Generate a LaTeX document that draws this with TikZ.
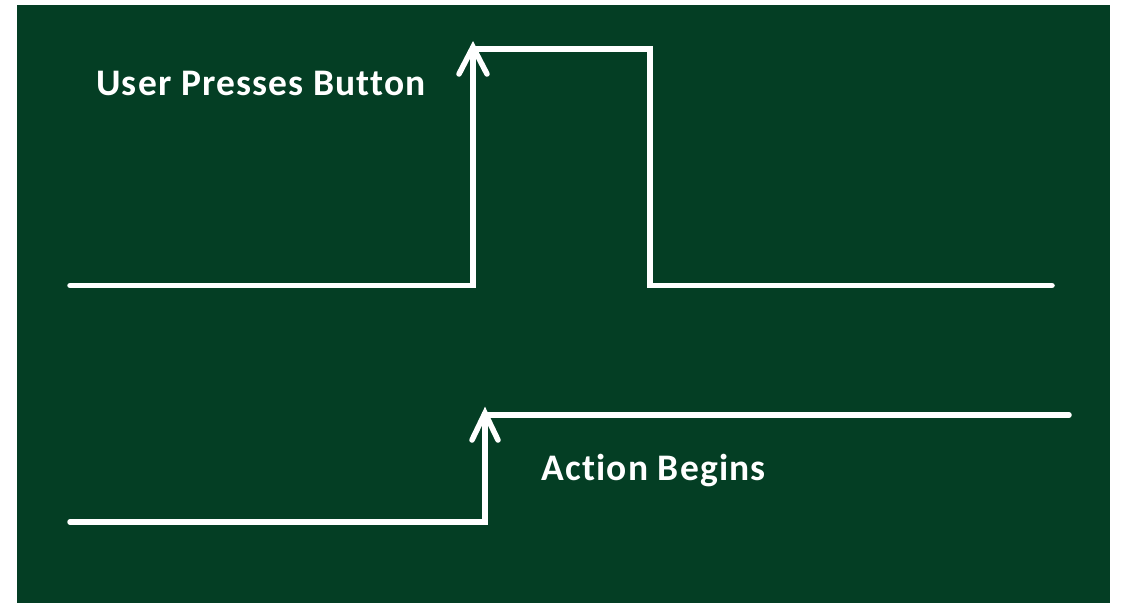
\documentclass[tikz,border=0pt]{standalone}
\usepackage{fontspec}
\setmainfont{Carlito}
\newfontfamily\labelfont[LetterSpace=3.2,Ligatures=CommonOff]{Carlito}
\definecolor{board}{RGB}{4,62,36}
\begin{document}
\begin{tikzpicture}[x=1pt,y=-1pt,
  signal/.style={draw=white,line width=5.5pt,line cap=round,line join=miter},
  barb/.style={draw=white,line width=5.5pt,line cap=round},
  caption/.style={text=white,font=\labelfont\bfseries\fontsize{37.5}{44}\selectfont,inner sep=0pt}]
  \useasboundingbox (0,0) rectangle (1122,603);
  \fill[board] (17,5) rectangle (1110,603);
  % button signal
  \coordinate (a0) at (70,285.5);
  \coordinate (a1) at (473,285.5);
  \coordinate (a2) at (473,49);
  \coordinate (a3) at (650,49);
  \coordinate (a4) at (650,285.5);
  \coordinate (a5) at (1052,285.5);
  \draw[signal] (a0) -- (a1) -- (a2) -- (a3) -- (a4) -- (a5);
  \draw[barb] (459,74) -- (473,47) -- (487,74);
  % action signal
  \coordinate (b0) at (70,522);
  \coordinate (b1) at (485,522);
  \coordinate (b2) at (485,415);
  \coordinate (b3) at (1069,415);
  \draw[signal] (b0) -- (b1) -- (b2) -- (b3);
  \draw[barb] (472,440) -- (485,413) -- (498,440);
  \node[caption,anchor=base west] (press) at (96,95) {User Presses Button};
  \node[caption,anchor=base west] (act) at (541,480) {Action Begins};
\end{tikzpicture}
\end{document}
